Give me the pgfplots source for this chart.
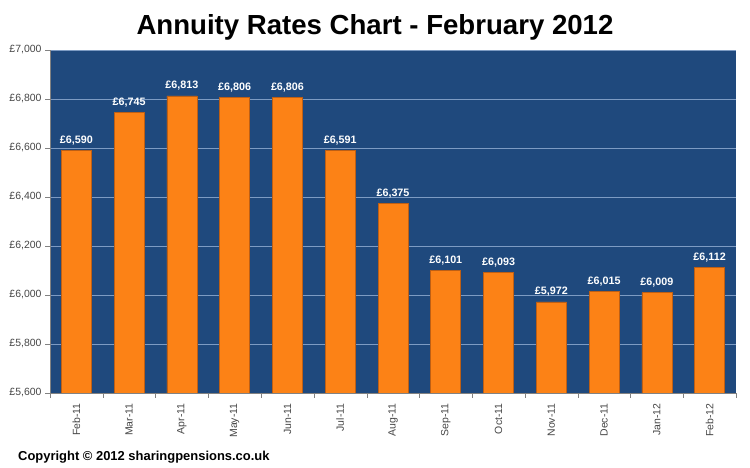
\documentclass[border=0pt]{standalone}
\usepackage{pgfplots}
\pgfplotsset{compat=1.18}
\usepackage{fontspec}
\setmainfont{Liberation Sans}

\definecolor{plotbg}{RGB}{31,73,125}
\definecolor{barfill}{RGB}{252,130,22}
\definecolor{baredge}{RGB}{190,95,20}
\definecolor{gridc}{RGB}{125,155,195}
\definecolor{ticktext}{RGB}{70,70,70}
\definecolor{axisgray}{RGB}{130,130,130}

\begin{document}
\begin{tikzpicture}
\useasboundingbox (0,0) rectangle (750bp,468bp);
\begin{axis}[
  at={(50bp,75bp)}, anchor=south west,
  scale only axis, width=686bp, height=343bp,
  axis background/.style={fill=plotbg},
  xmin=-0.5, xmax=12.5,
  ymin=5600, ymax=7000,
  ytick={5600,5800,...,7000},
  xtick={0,...,12},
  xticklabels={Feb-11,Mar-11,Apr-11,May-11,Jun-11,Jul-11,Aug-11,Sep-11,Oct-11,Nov-11,Dec-11,Jan-12,Feb-12},
  minor xtick={-0.5,0.5,...,12.5},
  major x tick style={draw=none},
  minor x tick style={axisgray},
  minor tick length=5bp,
  major tick length=5bp,
  tick align=outside,
  ytick style={axisgray},
  xtick pos=bottom, ytick pos=left,
  x tick label style={rotate=90, anchor=east, font=\fontsize{10.5}{12}\selectfont, text=ticktext, xshift=-2bp},
  y tick label style={font=\fontsize{10.5}{12}\selectfont, text=ticktext},
  /pgf/number format/assume math mode=true,
  /pgf/number format/.cd, 1000 sep={,}, fixed, precision=0, /pgfplots/.cd,
  yticklabel={£\pgfmathprintnumber{\tick}},
  ymajorgrids, grid style={gridc, line width=0.7pt},
  axis line style={axisgray},
  axis x line*=bottom, axis y line*=left,
  ybar, bar width=30bp, bar shift=0pt,
  nodes near coords={£\pgfmathprintnumber{\pgfplotspointmeta}},
  every node near coord/.append style={font=\bfseries\fontsize{10.8}{12}\selectfont, text=white, anchor=base, inner sep=0pt, yshift=7bp},
]
\addplot[fill=barfill, draw=baredge, line width=0.6pt] coordinates {
  (0,6590) (1,6745) (2,6813) (3,6806) (4,6806) (5,6591) (6,6375)
  (7,6101) (8,6093) (9,5972) (10,6015) (11,6009) (12,6112)
};
\end{axis}
\node[font=\bfseries\fontsize{27.7}{32}\selectfont, anchor=base] at (375bp,433bp) {Annuity Rates Chart - February 2012};
\node[font=\bfseries\fontsize{13}{15}\selectfont, anchor=base west, inner sep=0pt] at (18bp,8bp) {Copyright © 2012 sharingpensions.co.uk};
\end{tikzpicture}
\end{document}
